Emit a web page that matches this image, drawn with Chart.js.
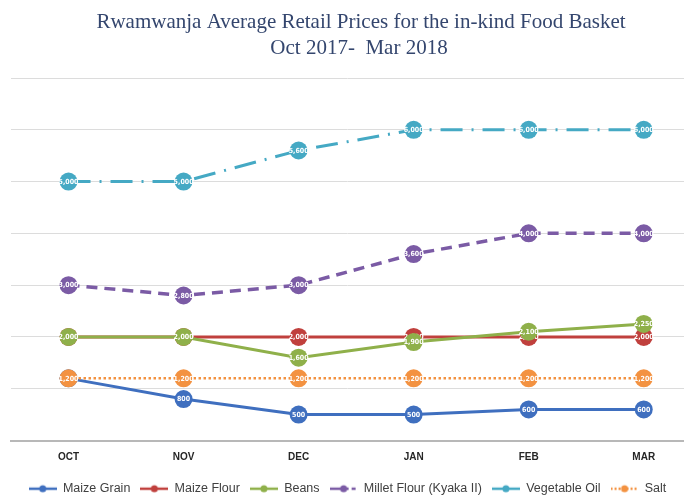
<!DOCTYPE html>
<html>
<head>
<meta charset="utf-8">
<script src="https://cdn.jsdelivr.net/npm/chart.js@4"></script>
<style>
    html, body { margin: 0; padding: 0; background: #fff; }
    #wrap { width: 684px; height: 497px; }
</style>
</head>
<body>
<div id="wrap"><canvas id="priceChart" width="684" height="497"></canvas></div>
<script>
// values (UGX)
const MONTHS = ['OCT', 'NOV', 'DEC', 'JAN', 'FEB', 'MAR'];
const TITLE_LINES = ['Rwamwanja Average Retail Prices for the in-kind Food Basket', 'Oct 2017-  Mar 2018'];

const maizeGrain = [1200, 800, 500, 500, 600, 600];
const maizeFlour = [2000, 2000, 2000, 2000, 2000, 2000];
const beans = [2000, 2000, 1600, 1900, 2100, 2250];
const milletFlour = [3000, 2800, 3000, 3600, 4000, 4000];
const vegetableOil = [5000, 5000, 5600, 6000, 6000, 6000];
const salt = [1200, 1200, 1200, 1200, 1200, 1200];

const SANS = "'Liberation Sans', Arial, sans-serif";

function toPoints(values) {
    return values.map((v, i) => ({ x: i, y: v }));
}

// little line + dot picture used as legend marker
function legendMarker(color, dash, width) {
    const c = document.createElement('canvas');
    c.width = 28;
    c.height = 12;
    const ctx = c.getContext('2d');
    ctx.strokeStyle = color;
    ctx.lineWidth = width;
    ctx.setLineDash(dash);
    ctx.beginPath();
    ctx.moveTo(0, 6);
    ctx.lineTo(28, 6);
    ctx.stroke();
    ctx.setLineDash([]);
    ctx.fillStyle = color;
    ctx.beginPath();
    ctx.arc(14, 6, 3.5, 0, Math.PI * 2);
    ctx.fill();
    return c;
}

function series(label, values, color, dash, width, order, markerDash) {
    return {
        label: label,
        data: toPoints(values),
        borderColor: color,
        backgroundColor: color,
        borderWidth: width,
        borderDash: dash,
        pointRadius: 9,
        pointHoverRadius: 9,
        pointBackgroundColor: color,
        pointBorderColor: color,
        pointBorderWidth: 0,
        tension: 0,
        order: order,
        marker: legendMarker(color, markerDash, 2.5)
    };
}

const titlePlugin = {
    id: 'twoLineTitle',
    afterDraw: function (chart) {
        const ctx = chart.ctx;
        ctx.save();
        ctx.fillStyle = '#34466e';
        ctx.font = "21px 'Liberation Serif', serif";
        ctx.textAlign = 'center';
        ctx.textBaseline = 'middle';
        ctx.fillText(TITLE_LINES[0], 361, 22);
        ctx.fillText(TITLE_LINES[1], 359, 48);
        ctx.restore();
    }
};

const pointLabels = {
    id: 'pointLabels',
    afterDatasetDraw: function (chart, args) {
        const ctx = chart.ctx;
        const ds = chart.data.datasets[args.index];
        ctx.save();
        ctx.fillStyle = '#ffffff';
        ctx.font = "bold 7px 'DejaVu Sans Condensed', " + SANS;
        ctx.textAlign = 'center';
        ctx.textBaseline = 'middle';
        args.meta.data.forEach((pt, i) => {
            ctx.fillText(ds.data[i].y.toLocaleString('en-US'), pt.x, pt.y + 0.5);
        });
        ctx.restore();
    }
};

const chart = new Chart(document.getElementById('priceChart'), {
    type: 'line',
    data: {
        datasets: [
            series('Maize Grain', maizeGrain, '#3f6fbf', [], 3, 6, []),
            series('Maize Flour', maizeFlour, '#c0403d', [], 3, 5, []),
            series('Beans', beans, '#8fb04a', [], 3, 4, []),
            series('Millet Flour (Kyaka II)', milletFlour, '#7b5ba5', [11, 7], 3.5, 3, [19, 3, 4, 20]),
            series('Vegetable Oil', vegetableOil, '#45a9c4', [22, 9, 2, 9], 3, 2, []),
            series('Salt', salt, '#f39241', [2.5, 2.5], 2.5, 1, [2, 2])
        ]
    },
    options: {
        responsive: false,
        animation: false,
        layout: {
            autoPadding: false,
            padding: { top: 78, left: 11, right: 0, bottom: -8 }
        },
        scales: {
            x: {
                type: 'linear',
                min: -0.5,
                max: 5.35,
                afterBuildTicks: function (scale) {
                    scale.ticks = MONTHS.map((m, i) => ({ value: i }));
                },
                afterFit: function (scale) {
                    scale.height = 32;
                },
                grid: { display: false, drawTicks: false },
                border: { color: '#b8b8b8', width: 2 },
                ticks: {
                    padding: 11,
                    color: '#262626',
                    font: { family: SANS, size: 10, weight: 'bold' },
                    callback: function (v) {
                        return MONTHS[v];
                    }
                }
            },
            y: {
                min: 0,
                max: 7000,
                ticks: { display: false, stepSize: 1000 },
                grid: { color: '#dcdcdc', drawTicks: false },
                border: { display: false }
            }
        },
        plugins: {
            title: { display: false },
            tooltip: { enabled: false },
            legend: {
                position: 'bottom',
                labels: {
                    usePointStyle: true,
                    pointStyleWidth: 28,
                    padding: 10,
                    color: '#404040',
                    font: { family: SANS, size: 12.5 },
                    generateLabels: function (c) {
                        const items = Chart.defaults.plugins.legend.labels.generateLabels(c);
                        items.sort((a, b) => a.datasetIndex - b.datasetIndex);
                        items.forEach(item => {
                            item.pointStyle = c.data.datasets[item.datasetIndex].marker;
                        });
                        return items;
                    }
                }
            }
        }
    },
    plugins: [titlePlugin, pointLabels]
});
</script>
</body>
</html>
